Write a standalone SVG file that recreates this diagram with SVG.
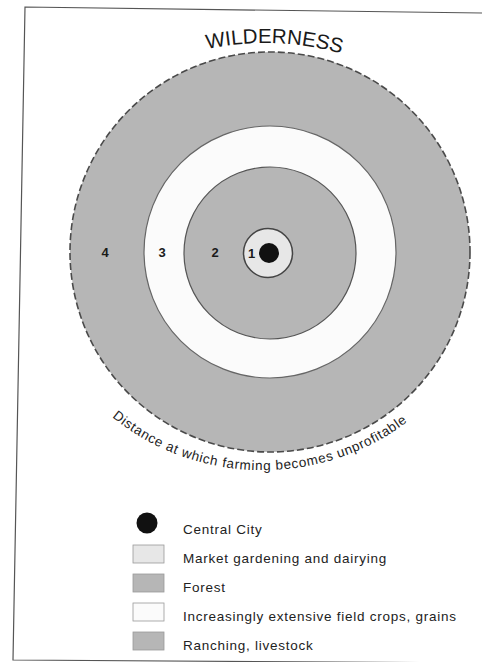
<svg xmlns="http://www.w3.org/2000/svg" width="482" height="662" viewBox="0 0 482 662">
  <style>
    .lbl { font-family: "Liberation Sans", Arial, sans-serif; font-size: 13.5px; fill: #222; letter-spacing: 0.75px; }
    .num { font-family: "Liberation Sans", Arial, sans-serif; font-size: 13px; font-weight: bold; fill: #1a1a1a; text-anchor: middle; }
    .zone-gray { fill: #b6b6b6; }
    .zone-light { fill: #e7e7e7; }
    .zone-white { fill: #fbfbfb; }
    .sw { stroke: #9a9a9a; stroke-width: 0.8; }
  </style>
  <defs>
    <path id="arcTop" d="M 135 75 A 280 280 0 0 1 395 75" fill="none"/>
    <path id="arcBottom" d="M 112 417 A 231 220 0 0 0 412 418" fill="none"/>
  </defs>
  <rect x="0" y="0" width="482" height="662" fill="#ffffff"/>
  <g id="frame">
    <path d="M 482 13 L 25 7 L 13 660 L 482 663" fill="none" stroke="#555" stroke-width="1.2"/>
  </g>

  <g id="title">
    <text font-family="'Liberation Sans', Arial, sans-serif" font-size="20.5" fill="#1a1a1a" text-anchor="middle"><textPath href="#arcTop" startOffset="53.5%">WILDERNESS</textPath></text>
  </g>

  <g id="zone4">
    <circle cx="270" cy="252" r="200" class="zone-gray" stroke="#4a4a4a" stroke-width="1.6" stroke-dasharray="7 3"/>
    <text class="num" x="105" y="257">4</text>
  </g>
  <g id="zone3">
    <circle cx="270" cy="252" r="126" class="zone-white" stroke="#666" stroke-width="1.2"/>
    <text class="num" x="162" y="257">3</text>
  </g>
  <g id="zone2">
    <circle cx="270" cy="253" r="86" class="zone-gray" stroke="#555" stroke-width="1.2"/>
    <text class="num" x="215" y="257">2</text>
  </g>
  <g id="zone1">
    <circle cx="268" cy="253" r="24.5" class="zone-light" stroke="#444" stroke-width="1.5"/>
    <text class="num" x="251.5" y="258">1</text>
  </g>
  <g id="city">
    <circle cx="269" cy="253" r="10" fill="#111"/>
  </g>

  <g id="limit-label">
    <text font-family="'Liberation Sans', Arial, sans-serif" font-size="13.5" fill="#222"><textPath href="#arcBottom" textLength="318" lengthAdjust="spacing">Distance at which farming becomes unprofitable</textPath></text>
  </g>

  <g id="legend">
    <g id="legend-city">
      <circle cx="147" cy="523" r="10.5" fill="#111"/>
      <text class="lbl" x="183" y="534">Central City</text>
    </g>
    <g id="legend-market">
      <rect x="133" y="545" width="31" height="18" class="zone-light sw"/>
      <text class="lbl" x="183" y="563">Market gardening and dairying</text>
    </g>
    <g id="legend-forest">
      <rect x="133" y="574" width="31" height="18" class="zone-gray sw"/>
      <text class="lbl" x="183" y="592">Forest</text>
    </g>
    <g id="legend-crops">
      <rect x="133" y="603" width="31" height="18" class="zone-white sw"/>
      <text class="lbl" x="183" y="621">Increasingly extensive field crops, grains</text>
    </g>
    <g id="legend-ranching">
      <rect x="133" y="632" width="31" height="18" class="zone-gray sw"/>
      <text class="lbl" x="183" y="650">Ranching, livestock</text>
    </g>
  </g>
</svg>
